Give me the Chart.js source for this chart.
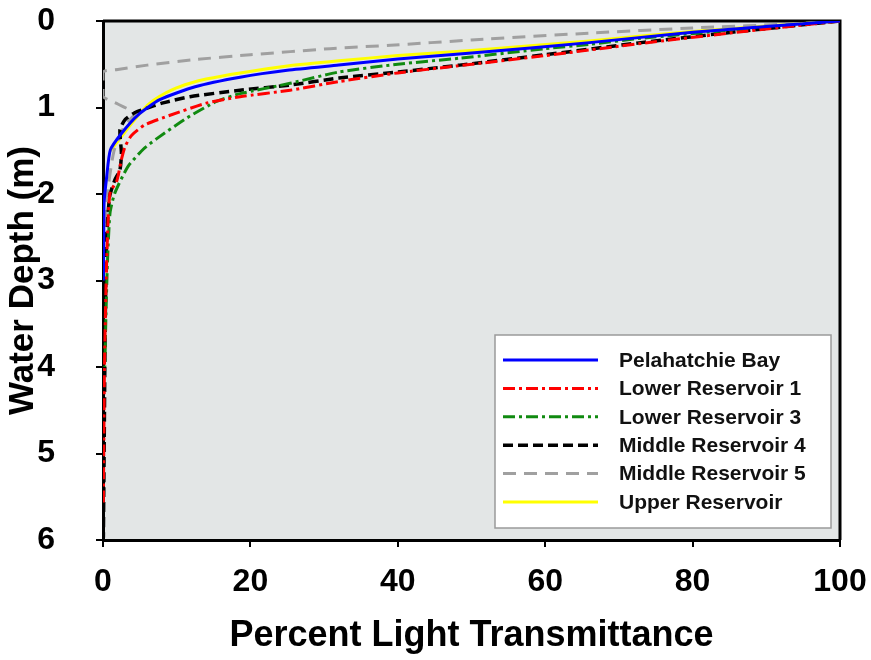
<!DOCTYPE html>
<html>
<head>
<meta charset="utf-8">
<script src="https://cdn.jsdelivr.net/npm/chart.js@4.4.1/dist/chart.umd.min.js"></script>
<style>
  html, body { margin: 0; padding: 0; background: #fff; }
  #grafico { display: block; }
</style>
</head>
<body>
<canvas id="grafico" width="871" height="660"></canvas>
<script>
// Series: [percent light transmittance, water depth (m)]
var pelahatchieBay = [[100,0],[80,0.13],[66,0.25],[50,0.37],[40,0.44],[32,0.51],[25,0.57],[18.6,0.65],[12.5,0.76],[7.7,0.91],[4.7,1.09],[2.5,1.3],[1,1.49],[0.5,1.8],[0.15,2.1],[0.1,2.5],[0.05,3.0]];
var lowerReservoir1 = [[100,0],[86,0.13],[73,0.26],[60,0.40],[48,0.52],[40,0.60],[32,0.70],[25.4,0.80],[18.6,0.875],[14,0.95],[9.1,1.09],[5.7,1.2],[3.9,1.32],[3,1.45],[2.5,1.6],[1.9,1.84],[0.95,1.99],[0.6,2.5],[0.4,3.1],[0.2,4.0],[0.1,5.0],[0.05,5.6]];
var lowerReservoir3 = [[100,0],[86,0.1],[73,0.2],[66,0.27],[60,0.32],[48.4,0.43],[40,0.5],[32,0.59],[25.4,0.72],[18.6,0.84],[15.4,0.93],[11.4,1.12],[7.3,1.36],[5.5,1.48],[3.4,1.68],[1.6,1.99],[0.95,2.22],[0.6,2.8],[0.4,3.4],[0.25,4.0]];
var middleReservoir4 = [[100,0],[86.4,0.12],[73,0.25],[60,0.39],[48.4,0.51],[40,0.59],[32,0.66],[25.4,0.74],[18.6,0.80],[11.8,0.875],[8,0.95],[5.9,1.01],[4.3,1.06],[3,1.14],[2.3,1.26],[2.5,1.53],[2.3,1.72],[1.6,1.84],[0.9,2.03],[0.5,2.5],[0.3,3.5],[0.2,4.5],[0.1,5.5],[0.05,5.97]];
var middleReservoir5 = [[100,0],[94.6,0.03],[80,0.08],[66,0.14],[50,0.22],[39,0.28],[30.8,0.32],[20,0.39],[12,0.45],[6,0.51],[2,0.56],[0,0.59],[0,0.87],[2,0.96],[4.3,1.07],[3,1.2],[1.5,1.5],[0.6,2.0],[0.3,2.5]];
var upperReservoir = [[100,0],[80,0.12],[66,0.23],[50,0.34],[40,0.40],[32,0.46],[25,0.52],[18.6,0.6],[14,0.67],[11.8,0.72],[9.5,0.79],[7.7,0.87],[6.2,0.96],[5,1.07],[3,1.28],[1,1.5]];

var seriesNames = ['Pelahatchie Bay', 'Lower Reservoir 1', 'Lower Reservoir 3', 'Middle Reservoir 4', 'Middle Reservoir 5', 'Upper Reservoir'];
var xTicks = [0, 20, 40, 60, 80, 100];
var yTicks = [0, 1, 2, 3, 4, 5, 6];

var fuente = '"Liberation Sans", Arial, sans-serif';

function puntos(serie) {
    return serie.map(function (p) { return { x: p[0], y: p[1] }; });
}

var estilos = [
    { color: '#0000ff', dash: [], width: 3 },
    { color: '#ff0000', dash: [12, 4, 3, 4], width: 3 },
    { color: '#108a10', dash: [12, 4, 3, 4], width: 3 },
    { color: '#000000', dash: [10, 5], width: 3.5 },
    { color: '#a0a0a0', dash: [13, 8], width: 3 },
    { color: '#ffff00', dash: [], width: 3 }
];
var series = [pelahatchieBay, lowerReservoir1, lowerReservoir3, middleReservoir4, middleReservoir5, upperReservoir];

var datasets = series.map(function (s, i) {
    return {
        label: seriesNames[i],
        data: puntos(s),
        showLine: true,
        borderColor: estilos[i].color,
        backgroundColor: estilos[i].color,
        borderDash: estilos[i].dash,
        borderWidth: estilos[i].width,
        pointRadius: 0,
        tension: 0.2,
        fill: false
    };
});

// fondo gris y marco del area de trazado
var marco = {
    id: 'marco',
    beforeDraw: function (chart) {
        var a = chart.chartArea, ctx = chart.ctx;
        ctx.save();
        ctx.fillStyle = '#e3e6e6';
        ctx.fillRect(a.left, a.top, a.right - a.left, a.bottom - a.top);
        ctx.restore();
    },
    beforeDatasetsDraw: function (chart) {
        var a = chart.chartArea, ctx = chart.ctx;
        ctx.save();
        ctx.strokeStyle = '#000';
        ctx.lineWidth = 3;
        ctx.beginPath();
        ctx.moveTo(a.left, a.top);
        ctx.lineTo(a.right, a.top);
        ctx.lineTo(a.right, a.bottom);
        ctx.stroke();
        ctx.restore();
    }
};

// leyenda dentro del grafico
var leyenda = {
    id: 'leyenda',
    afterDraw: function (chart) {
        var ctx = chart.ctx;
        var x0 = 495, y0 = 335, w = 336, h = 193;
        ctx.save();
        ctx.fillStyle = '#ffffff';
        ctx.fillRect(x0, y0, w, h);
        ctx.strokeStyle = '#9a9a9a';
        ctx.lineWidth = 1.5;
        ctx.strokeRect(x0, y0, w, h);
        ctx.font = 'bold 21px ' + fuente;
        ctx.textBaseline = 'middle';
        chart.data.datasets.forEach(function (ds, i) {
            var y = 360 + i * 28.4;
            ctx.strokeStyle = ds.borderColor;
            ctx.lineWidth = ds.borderWidth;
            ctx.setLineDash(ds.borderDash);
            ctx.beginPath();
            ctx.moveTo(503, y);
            ctx.lineTo(598, y);
            ctx.stroke();
            ctx.setLineDash([]);
            ctx.fillStyle = '#111';
            ctx.fillText(ds.label, 619, y + 1);
        });
        ctx.restore();
    }
};

new Chart(document.getElementById('grafico').getContext('2d'), {
    type: 'scatter',
    data: { datasets: datasets },
    options: {
        responsive: false,
        animation: false,
        layout: { padding: { top: 21, right: 31, left: 0, bottom: 0 } },
        plugins: {
            legend: { display: false },
            tooltip: { enabled: false }
        },
        scales: {
            x: {
                type: 'linear',
                min: 0,
                max: 100,
                afterFit: function (scale) {
                    scale.height = 120;
                    scale.paddingLeft = 0;
                    scale.paddingRight = 0;
                },
                afterBuildTicks: function (scale) {
                    scale.ticks = xTicks.map(function (v) { return { value: v }; });
                },
                grid: { display: true, drawOnChartArea: false, drawTicks: true, tickLength: 7, color: '#000', lineWidth: 2 },
                border: { display: true, color: '#000', width: 3 },
                ticks: { color: '#000', padding: 16, maxRotation: 0, font: { family: fuente, size: 32, weight: 'bold' } },
                title: {
                    display: true,
                    text: 'Percent Light Transmittance',
                    color: '#000',
                    padding: { top: 0, bottom: 2 },
                    font: { family: fuente, size: 36, weight: 'bold' }
                }
            },
            y: {
                type: 'linear',
                min: 0,
                max: 6,
                reverse: true,
                afterFit: function (scale) {
                    scale.width = 103;
                    scale.paddingTop = 0;
                    scale.paddingBottom = 0;
                },
                afterBuildTicks: function (scale) {
                    scale.ticks = yTicks.map(function (v) { return { value: v }; });
                },
                grid: { display: true, drawOnChartArea: false, drawTicks: true, tickLength: 7, color: '#000', lineWidth: 2 },
                border: { display: true, color: '#000', width: 3 },
                ticks: { color: '#000', padding: 41, font: { family: fuente, size: 32, weight: 'bold' } },
                title: {
                    display: true,
                    text: 'Water Depth (m)',
                    color: '#000',
                    padding: 2,
                    font: { family: fuente, size: 35, weight: 'bold' }
                }
            }
        }
    },
    plugins: [marco, leyenda]
});
</script>
</body>
</html>
